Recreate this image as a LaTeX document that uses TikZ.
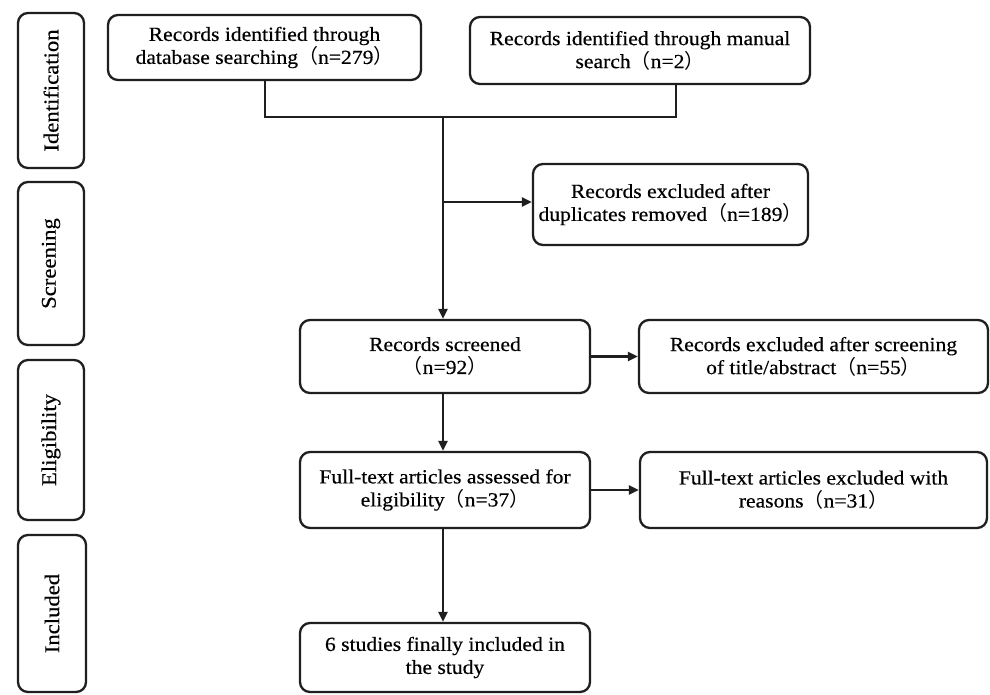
\documentclass[tikz,border=0pt]{standalone}
\usepackage{fontspec}
\setmainfont[FakeStretch=1.08,FakeBold=0.4]{Liberation Serif}
\newfontfamily\cjk{Noto Sans CJK SC}
\newcommand{\lpar}{{\cjk （}}
\newcommand{\rpar}{{\cjk ）}}
\usetikzlibrary{arrows.meta}
\begin{document}
\begin{tikzpicture}[x=1pt,y=-1pt,
  box/.style={draw=black!88, line width=2.3pt, rounded corners=10pt, align=center, inner sep=0pt, font=\fontsize{20}{23}\selectfont},
  phase/.style={box, rotate=90, font=\fontsize{21}{24}\selectfont},
  conn/.style={draw=black!88, line width=2.2pt},
  arr/.style={conn, -{Triangle[length=10pt,width=9pt]}}]
\useasboundingbox (0,0) rectangle (990,694);
\fill[white] (0,0) rectangle (990,694);

% phase labels
\node[phase, minimum width=155pt, minimum height=66pt] (ident) at (51,90.5) {Identification};
\node[phase, minimum width=163pt, minimum height=66pt] (screen) at (51,263.5) {Screening};
\node[phase, minimum width=160pt, minimum height=66pt] (elig) at (51,440) {Eligibility};
\node[phase, minimum width=157pt, minimum height=68pt] (incl) at (52,613.5) {Included};

% flow boxes
\node[box, minimum width=313pt, minimum height=65pt] (db) at (264.5,47.5) {Records identified through\\database searching\lpar n=279\rpar};
\node[box, minimum width=340pt, minimum height=67pt] (man) at (640,50.5) {Records identified through manual\\search\lpar n=2\rpar};
\node[box, minimum width=275pt, minimum height=81pt] (dup) at (670.5,204.5) {Records excluded after\\duplicates removed\lpar n=189\rpar};
\node[box, minimum width=290pt, minimum height=73pt] (scr) at (445,356.5) {Records screened\\\lpar n=92\rpar};
\node[box, minimum width=349pt, minimum height=73pt] (ex1) at (813.5,356.5) {Records excluded after screening\\of title/abstract\lpar n=55\rpar};
\node[box, minimum width=290pt, minimum height=76pt] (ft) at (445,490) {Full-text articles assessed for\\eligibility\lpar n=37\rpar};
\node[box, minimum width=347pt, minimum height=76pt] (ex2) at (813.5,490) {Full-text articles excluded with\\reasons\lpar n=31\rpar};
\node[box, minimum width=290pt, minimum height=69pt] (fin) at (445,657.5) {6 studies finally included in\\the study};

% connectors
\coordinate (j1) at (265,117);
\coordinate (j2) at (676,117);
\coordinate (jm) at (443,117);
\coordinate (jb) at (443,202);
\draw[conn] (db.south -| j1) -- (j1) -- (j2) -- (man.south -| j2);
\draw[arr] (jm) -- (scr.north -| jm);
\draw[arr] (jb) -- (dup.west |- jb);
\draw[arr] (scr.south -| jm) -- (ft.north -| jm);
\draw[arr] (ft.south -| jm) -- (fin.north -| jm);
\draw[arr] (scr.east) -- (ex1.west);
\draw[arr] (ft.east) -- (ex2.west);
\end{tikzpicture}
\end{document}
